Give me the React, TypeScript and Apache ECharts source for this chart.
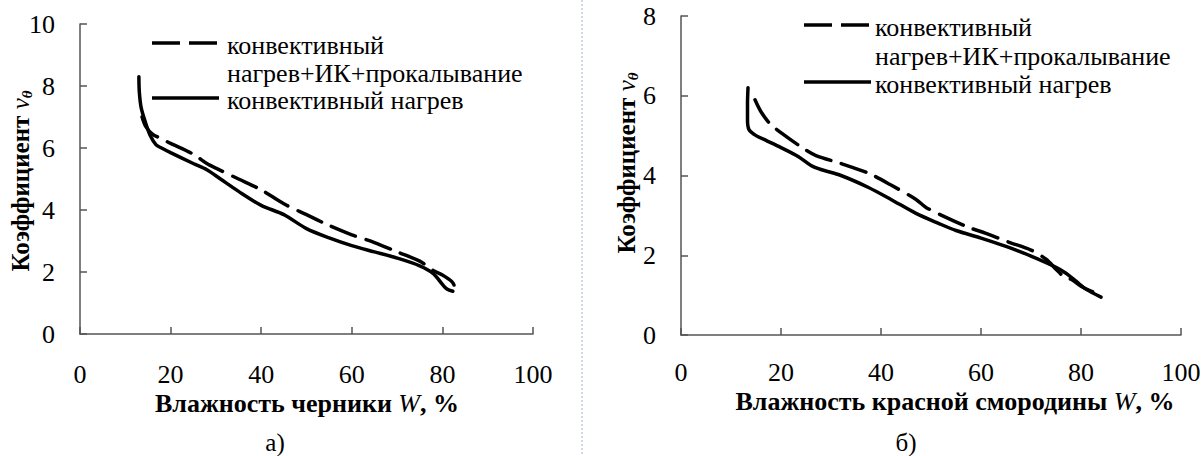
import React, { useEffect, useRef } from "react";
import * as echarts from "echarts";

// ---- data ----
const seriesNames = ["конвективный нагрев+ИК+прокалывание", "конвективный нагрев"];
const legendLines = ["конвективный", "нагрев+ИК+прокалывание", "конвективный нагрев"];
const xAxisTitles = ["Влажность черники", "Влажность красной смородины"];
const yAxisTitle = "Коэффициент";
const panelLabels = ["а)", "б)"];
const yMax = [10, 8];

// а) blueberry
const blueberryCombined: [number, number][] = [
  [13.7, 7.0], [14.5, 6.7], [16, 6.45], [18, 6.3], [20, 6.15], [25, 5.8], [28, 5.5],
  [30, 5.35], [35, 5.0], [40, 4.65], [45, 4.2], [50, 3.85], [55, 3.5], [60, 3.2],
  [65, 2.95], [70, 2.65], [75, 2.35], [78, 2.05], [80, 1.9], [82, 1.7], [82.6, 1.55], [82.5, 1.42],
];
const blueberryConvective: [number, number][] = [
  [13.0, 8.3], [13.1, 7.8], [13.5, 7.3], [14.5, 6.8], [15.5, 6.4], [16.8, 6.1], [18, 6.0],
  [20, 5.85], [25, 5.5], [28, 5.3], [31, 5.0], [35, 4.6], [40, 4.15], [45, 3.85], [50, 3.4],
  [55, 3.1], [60, 2.85], [65, 2.65], [70, 2.45], [75, 2.2], [78, 1.95], [80, 1.6], [81, 1.45], [82.3, 1.38],
];

// б) red currant
const currantCombined: [number, number][] = [
  [14.8, 5.9], [16, 5.6], [17.8, 5.3], [20.8, 5.0], [24.6, 4.67], [27, 4.5], [32, 4.3],
  [37.6, 4.05], [42, 3.76], [47, 3.4], [49, 3.2], [53, 2.95], [57.5, 2.7], [61, 2.55],
  [65.5, 2.33], [70, 2.13], [73, 1.9], [75, 1.65], [76.2, 1.5], [77, 1.42], [78, 1.4],
  [80, 1.22], [82, 1.1], [84, 1.05],
];
const currantConvective: [number, number][] = [
  [13.4, 6.2], [13.3, 5.8], [13.3, 5.4], [13.6, 5.15], [15, 5.0], [17, 4.88], [20, 4.7],
  [23.5, 4.47], [26, 4.25], [28, 4.15], [32, 4.0], [37.5, 3.7], [42, 3.4], [47, 3.05],
  [51.5, 2.8], [55, 2.62], [60, 2.43], [65, 2.22], [70, 1.98], [75, 1.7], [77, 1.55],
  [79, 1.35], [81, 1.15], [84, 0.95],
];

const FONT = "Liberation Serif";

export default function App() {
  const ref = useRef<HTMLDivElement>(null);

  useEffect(() => {
    if (!ref.current) return;
    const chart = echarts.init(ref.current, null, { renderer: "svg" });
    const axisColor = "#555";

    const xAxis = (idx: number, margin: number) => ({
      type: "value",
      gridIndex: idx,
      min: 0,
      max: 100,
      interval: 20,
      axisLine: { show: true, lineStyle: { color: axisColor, width: 1.5 } },
      axisTick: { show: true, inside: true, length: 7, lineStyle: { color: axisColor, width: 1.5 } },
      axisLabel: { fontFamily: FONT, fontSize: 26, color: "#000", margin },
      splitLine: { show: false },
    });

    const yAxis = (idx: number) => ({
      type: "value",
      gridIndex: idx,
      min: 0,
      max: yMax[idx],
      interval: 2,
      axisLine: { show: true, lineStyle: { color: axisColor, width: 1.5 } },
      axisTick: { show: true, inside: true, length: 7, lineStyle: { color: axisColor, width: 1.5 } },
      axisLabel: { fontFamily: FONT, fontSize: 26, color: "#000", margin: 25 },
      splitLine: { show: false },
    });

    const lineSeries = (name: string, idx: number, data: [number, number][], dashed: boolean) => ({
      name,
      type: "line",
      xAxisIndex: idx,
      yAxisIndex: idx,
      data,
      smooth: 0.3,
      showSymbol: false,
      symbol: "none",
      lineStyle: { color: "#000", width: 3.5, type: dashed ? [26, 11] : "solid", cap: "round" },
    });

    const textStyle = (text: string, size = 26) => ({
      text,
      fontFamily: FONT,
      fontSize: size,
      lineHeight: size,
      fill: "#000",
      verticalAlign: "middle",
    });

    const legendGroup = (x0: number, x1: number, tx: number, y1: number, y2: number, y3: number) => [
      { type: "line", shape: { x1: x0, y1, x2: x1, y2: y1 }, style: { stroke: "#000", lineWidth: 3.5, lineDash: [28, 9] } },
      { type: "text", x: tx, y: y1 + 2, style: textStyle(legendLines[0]) },
      { type: "text", x: tx, y: y2, style: textStyle(legendLines[1]) },
      { type: "line", shape: { x1: x0, y1: y3, x2: x1, y2: y3 }, style: { stroke: "#000", lineWidth: 3.5 } },
      { type: "text", x: tx, y: y3 + 2, style: textStyle(legendLines[2]) },
    ];

    const xName = (idx: number, x: number, y: number) => ({
      type: "text",
      x,
      y,
      style: {
        text: `{b|${xAxisTitles[idx]} }{i|W}{b|, %}`,
        align: "center",
        verticalAlign: "middle",
        rich: {
          b: { fontFamily: FONT, fontWeight: "bold", fontSize: 26, fill: "#000", lineHeight: 26 },
          i: { fontFamily: FONT, fontStyle: "italic", fontSize: 26, fill: "#000", lineHeight: 26 },
        },
      },
    });

    const yName = (x: number, y: number) => ({
      type: "text",
      x,
      y,
      rotation: Math.PI / 2,
      style: {
        text: `{b|${yAxisTitle} }{i|v}{s|θ}`,
        align: "center",
        verticalAlign: "middle",
        rich: {
          b: { fontFamily: FONT, fontWeight: "bold", fontSize: 25, fill: "#000", lineHeight: 28 },
          i: { fontFamily: FONT, fontStyle: "italic", fontSize: 25, fill: "#000", lineHeight: 28 },
          s: { fontFamily: FONT, fontStyle: "italic", fontWeight: "bold", fontSize: 15, fill: "#000", verticalAlign: "bottom", lineHeight: 28 },
        },
      },
    });

    chart.setOption({
      animation: false,
      backgroundColor: "#fff",
      grid: [
        { left: 80, top: 24, width: 453, height: 310, containLabel: false, outerBoundsMode: "none" },
        { left: 681, top: 16, width: 500, height: 319, containLabel: false, outerBoundsMode: "none" },
      ],
      xAxis: [xAxis(0, 27), xAxis(1, 24)],
      yAxis: [yAxis(0), yAxis(1)],
      series: [
        lineSeries(seriesNames[0], 0, blueberryCombined, true),
        lineSeries(seriesNames[1], 0, blueberryConvective, false),
        lineSeries(seriesNames[0], 1, currantCombined, true),
        lineSeries(seriesNames[1], 1, currantConvective, false),
      ],
      graphic: [
        ...legendGroup(152, 219, 227, 43, 73, 98),
        ...legendGroup(804, 871, 875, 25, 56, 82),
        xName(0, 307, 403),
        xName(1, 955, 401),
        yName(20, 181),
        yName(626, 163),
        { type: "text", x: 275, y: 442, style: { ...textStyle(panelLabels[0], 25), align: "center" } },
        { type: "text", x: 906, y: 442, style: { ...textStyle(panelLabels[1], 25), align: "center" } },
        { type: "line", shape: { x1: 582, y1: 0, x2: 582, y2: 456 }, style: { stroke: "#9fb4d6", lineWidth: 1, lineDash: [2, 2] } },
      ],
    });

    return () => chart.dispose();
  }, []);

  return (
    <div
      ref={ref}
      style={{ position: "fixed", left: 0, top: 0, width: 1203, height: 456, background: "#fff" }}
    />
  );
}
